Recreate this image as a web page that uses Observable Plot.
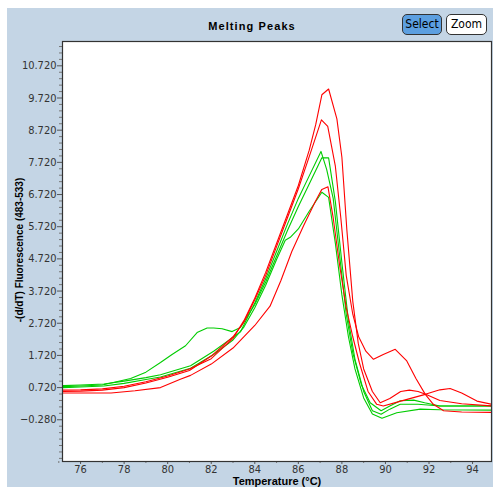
<!DOCTYPE html>
<html>
<head>
<meta charset="utf-8">
<script src="https://cdn.jsdelivr.net/npm/d3@7"></script>
<script src="https://cdn.jsdelivr.net/npm/@observablehq/plot@0.6"></script>
<style>
  html, body { margin: 0; padding: 0; background: #ffffff; }
  #wrap { position: relative; width: 493px; height: 487px; overflow: hidden; background: #ffffff; }
  #panel { position: absolute; left: 7px; top: 8px; width: 486px; height: 479px; background: #c4d5e5; }
  #chart { position: absolute; left: 0; top: 0; }
  .title { position: absolute; left: 252px; top: 20px; transform: translateX(-50%); font: bold 11px "Liberation Sans", Arial, sans-serif; letter-spacing: 1.1px; color: #000; white-space: nowrap; }
  .btn { position: absolute; top: 14px; height: 21px; box-sizing: border-box; border: 1px solid #333; border-radius: 5px; font: 12px "DejaVu Sans Condensed", "Liberation Sans Narrow", sans-serif; line-height: 19px; text-align: center; color: #000; }
  .xlabel { position: absolute; left: 277px; top: 475px; line-height: 11px; transform: translateX(-50%); font: bold 11px "Liberation Sans", Arial, sans-serif; color: #000; white-space: nowrap; }
  .ylabel { position: absolute; left: 19px; top: 250px; transform: translate(-50%, -50%) rotate(-90deg); font: bold 10px "Liberation Sans", Arial, sans-serif; color: #000; white-space: nowrap; }
</style>
</head>
<body>
<div id="wrap">
  <div id="panel"></div>
  <div id="chart"></div>
  <div class="title">Melting Peaks</div>
  <div class="btn" style="left:402px;width:40px;background:#5c9fe0;">Select</div>
  <div class="btn" style="left:446px;width:41px;background:#ffffff;">Zoom</div>
  <div class="xlabel">Temperature (°C)</div>
  <div class="ylabel">-(d/dT) Fluorescence (483-533)</div>
</div>
<script>
// Tick values
const xTicks = [76, 78, 80, 82, 84, 86, 88, 90, 92, 94];
const yTicks = [-0.28, 0.72, 1.72, 2.72, 3.72, 4.72, 5.72, 6.72, 7.72, 8.72, 9.72, 10.72];

// Red curve 1 (highest peak)
const r1T = [75.2, 76, 77, 78, 79, 80, 81, 82, 83, 83.5, 84, 84.5, 85, 85.5, 86, 86.5, 86.8, 87.08, 87.39, 87.77, 88.0, 88.23, 88.5, 88.75, 89.0, 89.4, 89.76, 90.2, 90.7, 91.1, 91.5, 91.9, 92.5, 93.5, 94.9];
const r1V = [0.64, 0.65, 0.68, 0.76, 0.9, 1.08, 1.3, 1.62, 2.25, 2.8, 3.5, 4.3, 5.2, 6.1, 7.0, 8.1, 8.9, 9.82, 10.0, 9.07, 7.88, 5.6, 3.4, 2.1, 1.3, 0.6, 0.25, 0.38, 0.6, 0.64, 0.6, 0.5, 0.32, 0.22, 0.15];
// Red curve 2 (second peak, shoulder at 90.5)
const r2T = [75.2, 76, 77, 78, 79, 80, 81, 82, 83, 83.5, 84, 84.5, 85, 85.5, 86, 86.5, 87.06, 87.35, 87.7, 87.95, 88.2, 88.5, 88.77, 89.1, 89.45, 89.9, 90.45, 90.98, 91.4, 91.83, 92.2, 92.67, 93.5, 94.9];
const r2V = [0.6, 0.61, 0.64, 0.72, 0.86, 1.04, 1.25, 1.7, 2.3, 2.75, 3.45, 4.2, 5.1, 6.0, 6.9, 7.9, 9.04, 8.84, 7.6, 6.0, 4.2, 3.0, 2.3, 1.85, 1.6, 1.75, 1.91, 1.55, 1.0, 0.51, 0.2, 0.0, -0.04, -0.05];
// Red curve 3 (low peak, bump near 93)
const r3T = [75.2, 76, 77.4, 78.5, 79.67, 80.58, 81.05, 82, 83, 84, 84.7, 85.2, 85.7, 86.24, 86.78, 87.08, 87.36, 87.6, 87.9, 88.2, 88.5, 88.8, 89.2, 89.6, 89.9, 90.7, 91.83, 92.5, 92.97, 93.5, 94.2, 94.9];
const r3V = [0.55, 0.55, 0.55, 0.62, 0.72, 0.98, 1.1, 1.45, 1.95, 2.65, 3.25, 4.05, 4.95, 5.75, 6.5, 6.88, 6.96, 6.0, 4.5, 3.2, 2.3, 1.5, 0.6, 0.2, 0.15, 0.3, 0.51, 0.65, 0.69, 0.55, 0.3, 0.2];
// Green curve 1 (peak ~8.06)
const g1T = [75.2, 76, 77.07, 78, 79, 79.67, 81.05, 82.11, 83.34, 84, 84.5, 85, 85.5, 86, 86.5, 87.04, 87.3, 87.6, 87.9, 88.2, 88.5, 88.9, 89.3, 89.8, 90.2, 90.68, 91.3, 91.8, 92.5, 94.9];
const g1V = [0.78, 0.8, 0.83, 0.92, 1.03, 1.12, 1.4, 1.85, 2.45, 3.35, 4.1, 4.95, 5.8, 6.6, 7.3, 8.06, 7.5, 6.6, 4.8, 3.0, 1.8, 0.8, 0.25, 0.0, 0.15, 0.31, 0.33, 0.25, 0.15, 0.15];
// Green curve 2 (peak ~7.86, shoulder at 82)
const g2T = [75.2, 76, 77, 78.3, 79, 79.67, 80.2, 80.82, 81.35, 81.81, 82.11, 82.5, 82.96, 83.34, 84, 84.5, 85, 85.5, 86, 86.5, 87.08, 87.39, 87.7, 88.0, 88.3, 88.6, 89.0, 89.4, 89.8, 90.2, 90.68, 91.5, 92.5, 94.9];
const g2V = [0.75, 0.77, 0.8, 1.0, 1.2, 1.5, 1.75, 2.02, 2.43, 2.57, 2.57, 2.55, 2.46, 2.59, 3.3, 4.0, 4.8, 5.6, 6.35, 7.05, 7.86, 7.86, 6.5, 4.6, 2.8, 1.6, 0.6, 0.0, -0.11, 0.05, 0.2, 0.2, 0.15, 0.15];
// Green curve 3 (peak ~6.79)
const g3T = [75.2, 76, 77.07, 78, 79, 79.67, 81.05, 82.11, 83, 83.5, 84, 84.5, 85, 85.4, 85.63, 86, 86.5, 87.08, 87.39, 87.7, 88.0, 88.3, 88.6, 89.0, 89.4, 89.84, 90.52, 91.6, 92.5, 94.9];
const g3V = [0.72, 0.74, 0.77, 0.85, 0.97, 1.05, 1.32, 1.75, 2.2, 2.6, 3.2, 3.9, 4.7, 5.3, 5.39, 5.65, 6.2, 6.79, 6.63, 5.2, 3.6, 2.3, 1.3, 0.4, -0.1, -0.23, -0.06, 0.05, 0.03, 0.02];

const RED = "#ff0000";
const GREEN = "#00cc00";

const series = [
  {T: g1T, V: g1V, color: GREEN},
  {T: g2T, V: g2V, color: GREEN},
  {T: g3T, V: g3V, color: GREEN},
  {T: r3T, V: r3V, color: RED},
  {T: r2T, V: r2V, color: RED},
  {T: r1T, V: r1V, color: RED}
];

const yMinor = d3.range(-1.48, 11.5, 0.2).map(v => +v.toFixed(2)).filter(v => !yTicks.some(t => Math.abs(t - v) < 1e-6));
const xMinor = d3.range(75, 95, 1).filter(v => v % 2 === 1);

const lineMarks = series.map(s =>
  Plot.line(s.T.map((t, i) => ({t, v: s.V[i]})), {x: "t", y: "v", stroke: s.color, strokeWidth: 1.1, clip: true})
);

const chart = Plot.plot({
  width: 493,
  height: 487,
  marginLeft: 62,
  marginRight: 2,
  marginTop: 41,
  marginBottom: 26,
  x: {domain: [75.17, 94.87], label: null},
  y: {domain: [-1.577, 11.476], label: null},
  style: {background: "transparent", fontFamily: "'Liberation Sans Narrow', 'DejaVu Sans Condensed', sans-serif", fontSize: "11px", color: "#333"},
  marks: [
    Plot.frame({fill: "white", stroke: "none"}),
    Plot.axisY({ticks: yMinor, tickSize: 3, tickFormat: () => "", label: null, stroke: "#777"}),
    Plot.axisY({ticks: yTicks, tickSize: 5, tickPadding: 1, tickFormat: d3.format(".3f"), label: null, stroke: "#555"}),
    Plot.axisX({ticks: xMinor, tickSize: 2, tickFormat: () => "", label: null, stroke: "#777"}),
    Plot.axisX({ticks: xTicks, tickSize: 3, tickPadding: 1, tickFormat: d => String(d), label: null, stroke: "#555"}),
    ...lineMarks,
    Plot.frame({stroke: "#333", strokeWidth: 1.2})
  ]
});
document.getElementById("chart").appendChild(chart);
</script>
</body>
</html>
